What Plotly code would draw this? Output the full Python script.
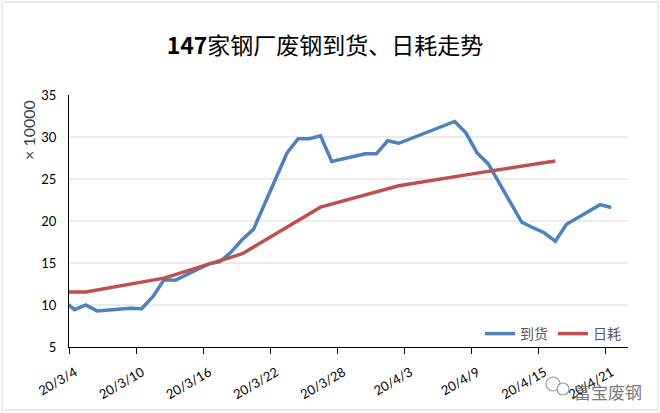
import plotly.graph_objects as go
from datetime import datetime, timedelta

# ---------------- data ----------------
arrival_dates = [
    "2020-03-03", "2020-03-04", "2020-03-05", "2020-03-06", "2020-03-09", "2020-03-10",
    "2020-03-11", "2020-03-12", "2020-03-13", "2020-03-16", "2020-03-17", "2020-03-18",
    "2020-03-19", "2020-03-20", "2020-03-23", "2020-03-24", "2020-03-25", "2020-03-26",
    "2020-03-27", "2020-03-30", "2020-03-31", "2020-04-01", "2020-04-02", "2020-04-07",
    "2020-04-08", "2020-04-09", "2020-04-10", "2020-04-13", "2020-04-14", "2020-04-15",
    "2020-04-16", "2020-04-17", "2020-04-20", "2020-04-21",
]
arrival = [
    10.5, 9.45, 10.0, 9.3, 9.6, 9.55,
    11.0, 13.0, 12.95, 14.9, 15.15, 16.3,
    17.8, 19.0, 28.1, 29.8, 29.8, 30.15,
    27.1, 28.0, 28.0, 29.55, 29.25, 31.85,
    30.5, 28.1, 26.8, 19.85, 19.2, 18.6,
    17.6, 19.6, 21.95, 21.6,
]

usage_dates = ["2020-02-27", "2020-03-05", "2020-03-12", "2020-03-19",
               "2020-03-26", "2020-04-02", "2020-04-09", "2020-04-16"]
usage = [11.55, 11.55, 13.2, 16.1, 21.65, 24.2, 25.7, 27.15]

tick_dates = ["2020-03-04", "2020-03-10", "2020-03-16", "2020-03-22", "2020-03-28",
              "2020-04-03", "2020-04-09", "2020-04-15", "2020-04-21"]
tick_labels = ["20/3/4", "20/3/10", "20/3/16", "20/3/22", "20/3/28",
               "20/4/3", "20/4/9", "20/4/15", "20/4/21"]
y_ticks = [5, 10, 15, 20, 25, 30, 35]

series_names = ["到货", "日耗"]
title_text = "<b>147</b>家钢厂废钢到货、日耗走势"

# ---------------- layout helpers ----------------
W, H = 660, 413
L, R, T, B = 69, 32, 95, 66
PW, PH = W - L - R, H - T - B


def px_x(px):
    return (px - L) / PW


def px_y(py):
    return (H - B - py) / PH


# date axis with "between tick marks" look: ticks sit half a day before each date
half_day = timedelta(hours=12)
tick_vals = [datetime.fromisoformat(d) - half_day for d in tick_dates]
x_range = [datetime(2020, 3, 4) - half_day, datetime(2020, 4, 23) - half_day]

blue = "#4F81BD"
red = "#C0504D"

fig = go.Figure()
fig.add_trace(go.Scatter(x=arrival_dates, y=arrival, mode="lines", name=series_names[0],
                         line=dict(color=blue, width=3.5)))
fig.add_trace(go.Scatter(x=usage_dates, y=usage, mode="lines", name=series_names[1],
                         line=dict(color=red, width=3.5)))

shapes = []
for v in y_ticks[1:-1]:
    shapes.append(dict(type="line", xref="paper", yref="y", x0=0, x1=1, y0=v, y1=v,
                       line=dict(color="#d9d9d9", width=1), layer="below"))
# outer chart border
shapes.append(dict(type="rect", xref="paper", yref="paper",
                   x0=px_x(2), x1=px_x(658), y0=px_y(410), y1=px_y(2),
                   line=dict(color="#d9d9d9", width=1), layer="below"))
# small chat-bubble icon of the watermark
for cx, cy, r in [(553, 384, 7), (563, 389, 6)]:
    shapes.append(dict(type="circle", xref="paper", yref="paper",
                       x0=px_x(cx - r), x1=px_x(cx + r), y0=px_y(cy + r), y1=px_y(cy - r),
                       line=dict(color="#9a9a9a", width=1.2), fillcolor="rgba(255,255,255,0.8)"))

fig.update_layout(
    width=W, height=H,
    margin=dict(l=L, r=R, t=T, b=B, autoexpand=False),
    paper_bgcolor="white", plot_bgcolor="white",
    title=dict(text=title_text, x=325 / W, xref="container", xanchor="center",
               y=1 - 46 / H, yref="container", yanchor="middle",
               font=dict(family="Noto Sans CJK SC", size=23, color="#000000")),
    showlegend=True,
    legend=dict(orientation="h", x=px_x(626), xanchor="right", y=px_y(334), yanchor="middle",
                bgcolor="rgba(0,0,0,0)", font=dict(family="Noto Sans CJK SC", size=14, color="#595959"),
                itemwidth=30, tracegroupgap=0),
    xaxis=dict(type="date", range=x_range, tickvals=tick_vals, ticktext=tick_labels,
               tickangle=-30, ticks="outside", ticklen=6, tickcolor="#000000", tickwidth=1,
               showline=True, linecolor="#000000", linewidth=1, showgrid=False, zeroline=False,
               ticklabelstandoff=6, ticklabelshift=6,
               tickfont=dict(family="Lato", size=13, color="#000000")),
    yaxis=dict(range=[5, 35], tickvals=y_ticks, ticks="", showline=True, linecolor="#000000",
               linewidth=1, showgrid=False, zeroline=False, ticklabelstandoff=9,
               tickfont=dict(family="Lato", size=13, color="#000000")),
    shapes=shapes,
    annotations=[
        dict(text="× 10000", xref="paper", yref="paper", x=px_x(28), y=px_y(130),
             textangle=-90, showarrow=False, xanchor="center", yanchor="middle",
             font=dict(family="Lato", size=16, color="#404040")),
        dict(text="富宝废钢", xref="paper", yref="paper", x=px_x(608), y=px_y(391),
             showarrow=False, xanchor="center", yanchor="middle",
             font=dict(family="Noto Sans CJK SC", size=17, color="#7a7a7a")),
    ],
)

fig.write_html("out.html", config={"displayModeBar": False},
               post_script="document.body.style.margin='0';")
